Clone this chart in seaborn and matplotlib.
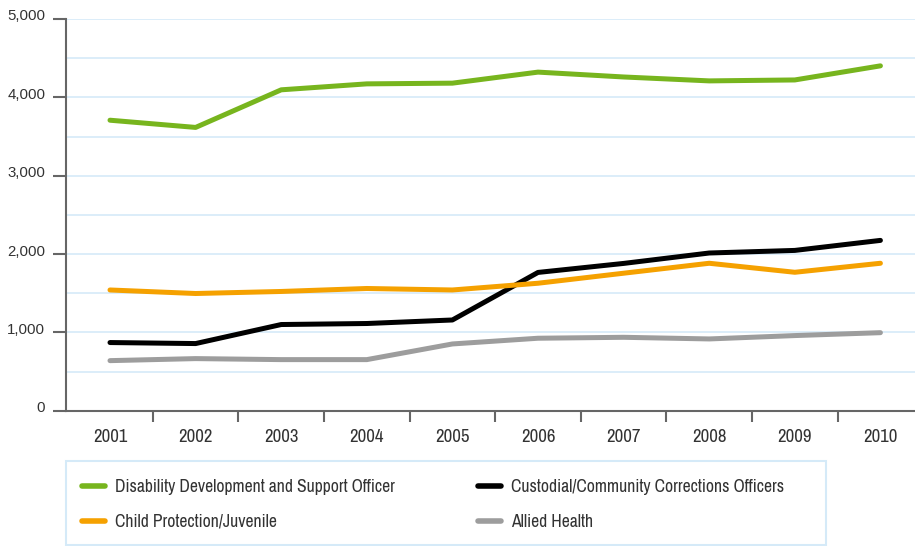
import matplotlib
matplotlib.use("Agg")
import matplotlib.pyplot as plt
from matplotlib.lines import Line2D
from matplotlib.patches import Rectangle
from matplotlib.ticker import MultipleLocator, FixedLocator, FuncFormatter
import matplotlib.transforms as mtransforms
import seaborn as sns
import pandas as pd

years = ["2001", "2002", "2003", "2004", "2005", "2006", "2007", "2008", "2009", "2010"]
disability = [3708, 3616, 4096, 4172, 4181, 4322, 4260, 4210, 4222, 4402]
custodial = [870, 857, 1100, 1113, 1158, 1765, 1880, 2013, 2046, 2174]
child = [1541, 1496, 1522, 1560, 1541, 1627, 1755, 1882, 1767, 1882]
allied = [639, 665, 652, 652, 852, 925, 937, 916, 959, 996]

series_names = [
    "Disability Development and Support Officer",
    "Custodial/Community Corrections Officers",
    "Child Protection/Juvenile",
    "Allied Health",
]
colors = {
    series_names[0]: "#77b51e",
    series_names[1]: "#000000",
    series_names[2]: "#f5a100",
    series_names[3]: "#9d9d9d",
}

rows = []
for name, vals in zip(series_names, [disability, custodial, child, allied]):
    for i, v in enumerate(vals):
        rows.append({"idx": i, "value": v, "series": name})
df = pd.DataFrame(rows)

sns.set_theme(style="white")
narrow = ["Archivo Narrow", "Liberation Sans Narrow", "DejaVu Sans"]
plt.rcParams["font.family"] = narrow
text_color = "#333333"
W, H = 915, 546

fig = plt.figure(figsize=(W / 100, H / 100), dpi=100)
ax = fig.add_axes([66 / W, (H - 410.7) / H, (W - 66) / W, (410.7 - 19) / H])

sns.lineplot(data=df, x="idx", y="value", hue="series", palette=colors,
             hue_order=series_names, linewidth=3.6, ax=ax, legend=False)
for line in ax.get_lines():
    line.set_solid_capstyle("round")
    line.set_solid_joinstyle("round")

ax.set_xlim(-0.514, 9.404)
ax.set_ylim(0, 5000)

# y axis: labelled every 1000, grid every 500
ax.yaxis.set_major_locator(MultipleLocator(1000))
ax.yaxis.set_major_formatter(FuncFormatter(lambda v, p: f"{int(v):,}"))
ax.grid(False)
for y in range(500, 5001, 500):
    ax.axhline(y, color="#d5eaf8", linewidth=1.2, zorder=0)

# x axis: labels at the years, tick marks between them
ax.xaxis.set_major_locator(FixedLocator(range(len(years))))
ax.set_xticklabels(years)
ax.xaxis.set_minor_locator(FixedLocator([i + 0.5 for i in range(len(years) - 1)]))

ax.tick_params(axis="y", which="major", direction="out", length=9.5, width=1.5,
               color="#666666", labelsize=10.8, labelcolor=text_color, pad=5.5, left=True)
ax.tick_params(axis="x", which="major", length=0, labelsize=13.5, labelcolor=text_color, pad=13)
ax.tick_params(axis="x", which="minor", direction="out", length=8, width=1.5,
               color="#666666", bottom=True)

# value labels sit slightly above their tick marks
lift = mtransforms.ScaledTranslation(0, 4 / 100, fig.dpi_scale_trans)
for lbl in ax.get_yticklabels():
    lbl.set_fontfamily(["Liberation Sans", "DejaVu Sans"])
    lbl.set_transform(lbl.get_transform() + lift)

for side in ["top", "right"]:
    ax.spines[side].set_visible(False)
for side in ["left", "bottom"]:
    ax.spines[side].set_color("#666666")
    ax.spines[side].set_linewidth(1.5)

ax.set_xlabel("")
ax.set_ylabel("")

# legend box
fig.patches.append(Rectangle((66 / W, 1 / H), (826 - 66) / W, (85.3 - 1) / H,
                             transform=fig.transFigure, fill=False,
                             edgecolor="#d5eaf8", linewidth=1.5))

handles = [Line2D([0], [0], color=colors[n], linewidth=4.0, solid_capstyle="round")
           for n in series_names]
order = [0, 2, 1, 3]
leg = fig.legend([handles[i] for i in order], [series_names[i] for i in order],
                 ncol=2, loc="center left",
                 bbox_to_anchor=(82 / W, 41.7 / H),
                 frameon=False, fontsize=12.7,
                 handlelength=1.3, handletextpad=0.56, columnspacing=4.75,
                 labelspacing=1.07, borderpad=0.0, borderaxespad=0.0)
for t in leg.get_texts():
    t.set_color(text_color)

fig.savefig("out.png", dpi=100)
